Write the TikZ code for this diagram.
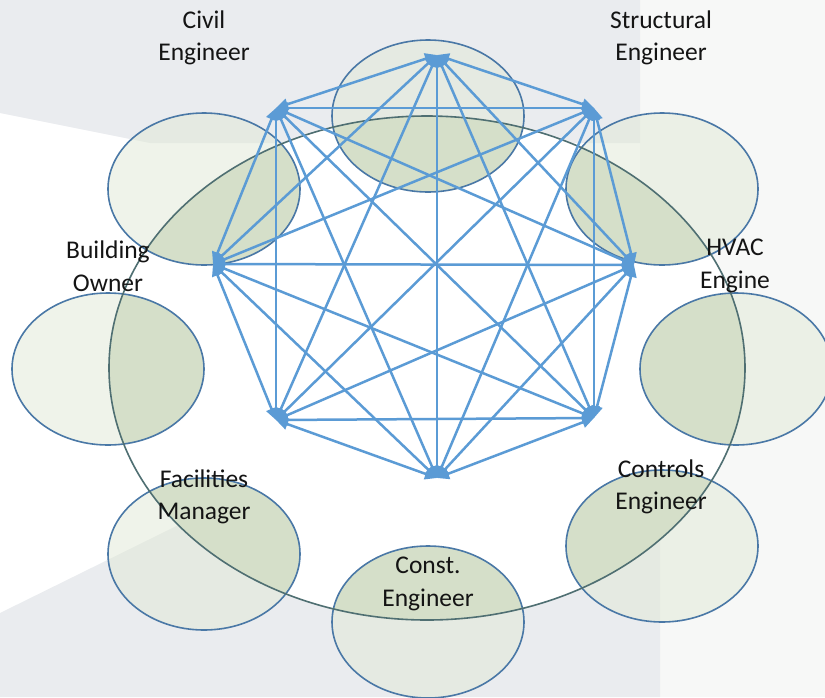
\documentclass[tikz,border=0pt]{standalone}
\usepackage{fontspec}
\setmainfont{Carlito}
\usepackage{xcolor}
\usetikzlibrary{shapes.geometric}
\usetikzlibrary{arrows.meta}

\definecolor{linkblue}{HTML}{5B9BD5}
\definecolor{ringline}{HTML}{4F6F72}
\definecolor{blobline}{HTML}{4A78A6}
\definecolor{blobfill}{HTML}{E2EAD9}
\definecolor{overlapfill}{HTML}{D5DFC9}
\definecolor{bggrey}{HTML}{EAECEF}
\definecolor{bgright}{HTML}{F7F8F7}

\begin{document}
\begin{tikzpicture}[x=1pt,y=-1pt]
\tikzset{link/.style={linkblue,line width=2.5pt,{Triangle[length=12pt,width=11pt]}-{Triangle[length=12pt,width=11pt]}},
  blob/.style={ellipse,minimum width=192pt,minimum height=152pt,inner sep=0pt,draw=blobline,line width=1.6pt,
    fill=blobfill,fill opacity=0.55,
    path picture={\fill[overlapfill,fill opacity=1] (ringc) ellipse [x radius=318pt,y radius=252pt];}},
  role/.style={align=center,inner sep=0pt,text=black!92,font=\fontsize{25.5}{32.5}\selectfont}}
\useasboundingbox (0,0) rectangle (825,697);
% backdrop
\fill[bgright] (640,0) rectangle (825,697);
\fill[bggrey] (0,0) -- (640,0) -- (640,143) -- (150,143) -- (0,113) -- cycle;
\fill[bggrey] (0,613) -- (300,465) -- (660,465) -- (660,697) -- (0,697) -- cycle;
\coordinate (ringc) at (427,368);
\fill[white] (ringc) ellipse [x radius=318pt,y radius=252pt];
% the eight team bubbles
\node[blob] (civilblob) at (428,116) {};
\node[blob] (structblob) at (662,189) {};
\node[blob] (hvacblob) at (736,369) {};
\node[blob] (controlsblob) at (662,546) {};
\node[blob] (constblob) at (428,622) {};
\node[blob] (facilblob) at (204,554) {};
\node[blob] (ownerblob) at (108,369) {};
\node[blob] (extrablob) at (204,189) {};
\draw[ringline,line width=1.6pt] (ringc) ellipse [x radius=318pt,y radius=252pt];
% everyone talks to everyone
\coordinate (p1) at (437,55);
\coordinate (p2) at (594,108);
\coordinate (p3) at (634,265);
\coordinate (p4) at (594,418);
\coordinate (p5) at (437,478);
\coordinate (p6) at (276,420);
\coordinate (p7) at (213,264);
\coordinate (p8) at (276,108);
\path[link] (p1) edge (p2) edge (p3) edge (p4) edge (p5) edge (p6) edge (p7) edge (p8);
\path[link] (p2) edge (p3) edge (p4) edge (p5) edge (p6) edge (p7) edge (p8);
\path[link] (p3) edge (p4) edge (p5) edge (p6) edge (p7) edge (p8);
\path[link] (p4) edge (p5) edge (p6) edge (p7) edge (p8);
\path[link] (p5) edge (p6) edge (p7) edge (p8);
\path[link] (p6) edge (p7) edge (p8);
\path[link] (p7) edge (p8);
% labels
\node[role] (civil) at (204,38) {Civil\\Engineer};
\node[role] (struct) at (661,38) {Structural\\Engineer};
\node[role] (hvac) at (735,266) {HVAC\\Engine};
\node[role] (owner) at (108,266) {Building\\Owner};
\node[role] (facil) at (204,497) {Facilities\\Manager};
\node[role] (controls) at (661,487) {Controls\\Engineer};
\node[role] (const) at (428,584) {Const.\\Engineer};
\end{tikzpicture}
\end{document}
